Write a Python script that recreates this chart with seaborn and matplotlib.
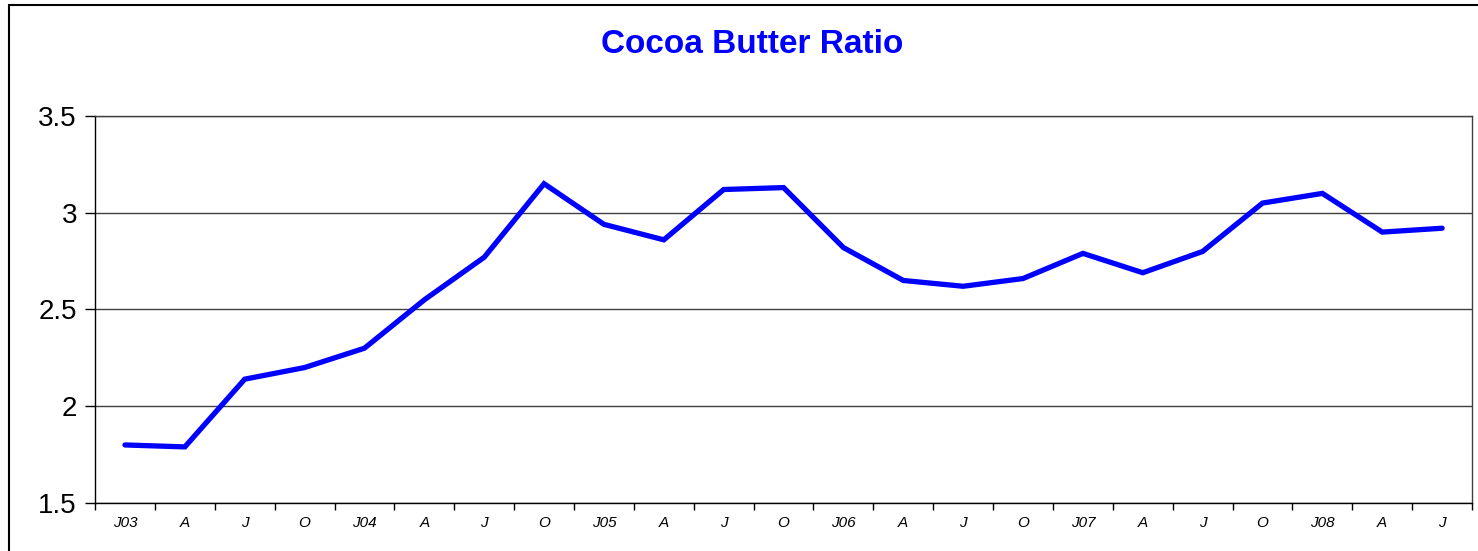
import matplotlib.pyplot as plt
import matplotlib.patches as patches
import seaborn as sns
import numpy as np
import pandas as pd

months = ['J03', 'A', 'J', 'O', 'J04', 'A', 'J', 'O', 'J05', 'A', 'J', 'O',
          'J06', 'A', 'J', 'O', 'J07', 'A', 'J', 'O', 'J08', 'A', 'J']
ratio = [1.80, 1.79, 2.14, 2.20, 2.30, 2.55, 2.77, 3.15, 2.94, 2.86, 3.12, 3.13,
         2.82, 2.65, 2.62, 2.66, 2.79, 2.69, 2.80, 3.05, 3.10, 2.90, 2.92]

df = pd.DataFrame({'pos': np.arange(len(months)), 'ratio': ratio})

sns.set_style('white')
plt.rcParams['font.family'] = ['Liberation Sans', 'DejaVu Sans']

fig = plt.figure(figsize=(14.78, 5.51), dpi=100)
ax = fig.add_axes([0.0643, 0.0871, 0.9317, 0.7024])

sns.lineplot(data=df, x='pos', y='ratio', ax=ax, color='#0000ff', linewidth=3.8,
             solid_capstyle='round', solid_joinstyle='miter')

ax.set_xlim(-0.5, len(months) - 0.5)
ax.set_ylim(1.5, 3.5)
ax.set_yticks([1.5, 2, 2.5, 3, 3.5])
ax.set_yticklabels(['1.5', '2', '2.5', '3', '3.5'], fontsize=20, color='black')
ax.yaxis.grid(True, color='#404040', linewidth=1)
ax.xaxis.grid(False)

# tick marks between categories, labels centred under points
ax.set_xticks(np.arange(len(months) + 1) - 0.5)
ax.set_xticklabels([])
ax.set_xticks(np.arange(len(months)), minor=True)
ax.set_xticklabels(months, minor=True, fontsize=11, style='italic', color='black')
ax.tick_params(axis='x', which='major', direction='out', length=5, width=1,
               color='black', bottom=True)
ax.tick_params(axis='x', which='minor', length=0, pad=9, bottom=True)
ax.tick_params(axis='y', direction='out', length=7, width=1, color='black',
               left=True, pad=6)

for side in ['left', 'bottom', 'top', 'right']:
    ax.spines[side].set_visible(True)
    ax.spines[side].set_linewidth(1)
ax.spines['left'].set_color('black')
ax.spines['bottom'].set_color('black')
ax.spines['top'].set_color('#404040')
ax.spines['right'].set_color('#404040')

ax.set_xlabel('')
ax.set_ylabel('')

fig.text(0.509, 0.92, 'Cocoa Butter Ratio', ha='center', va='center',
         fontsize=24, fontweight='bold', color='#0000ff')

# outer chart frame
fig.patches.append(patches.Rectangle((9 / 1478, -0.1), 1.2, 1 - 5 / 551 + 0.1,
                                     transform=fig.transFigure, fill=False,
                                     edgecolor='black', linewidth=1.5))

fig.savefig('out.png', dpi=100)
